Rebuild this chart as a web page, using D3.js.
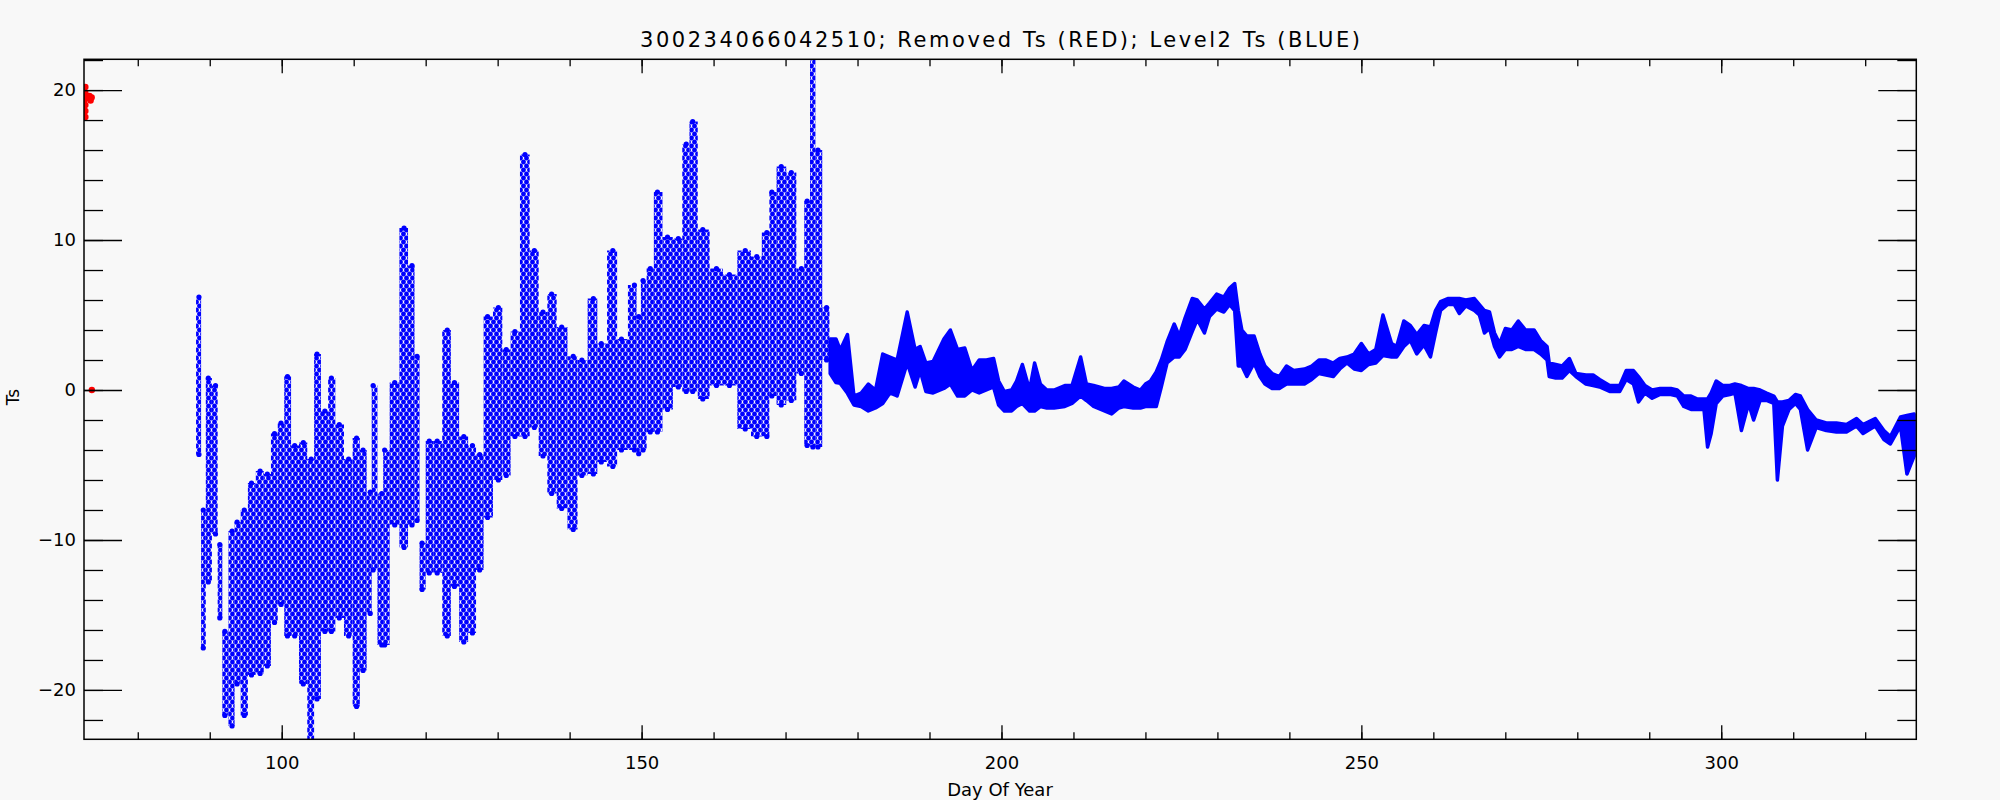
<!DOCTYPE html>
<html><head><meta charset="utf-8">
<script src="https://cdn.jsdelivr.net/npm/d3@7"></script>
<style>
html,body{margin:0;padding:0;background:#f8f8f8;}
svg{display:block;font-family:"DejaVu Sans",sans-serif;}
</style>
</head><body>
<svg id="chart" width="2000" height="800"></svg>
<script>
// ---------------- data ----------------
const chartTitle = "300234066042510; Removed Ts (RED); Level2 Ts (BLUE)";
const xTitle = "Day Of Year";
const yTitle = "Ts";
const xDomain = [72.53, 327.1];
const yDomain = [-23.29, 22.05];
const xMajorTicks = [100, 150, 200, 250, 300];
const xMinorTicks = [80, 90, 100, 110, 120, 130, 140, 150, 160, 170, 180, 190, 200, 210, 220, 230, 240, 250, 260, 270, 280, 290, 300, 310, 320];
const yMajorTicks = [-20, -10, 0, 10, 20];
const yMinorTicks = [-22, -20, -18, -16, -14, -12, -10, -8, -6, -4, -2, 0, 2, 4, 6, 8, 10, 12, 14, 16, 18, 20, 22];

// Removed Ts (red)
const redDay = [72.72, 72.72, 72.72, 72.72, 72.72, 72.72, 73.3, 73.45, 73.6, 73.62];
const redTs  = [20.2, 19.8, 19.4, 19.0, 18.6, 18.2, 19.6, 19.3, 19.5, 0.0];

// Level2 Ts, spring period with strong diurnal cycle: day, daily low, daily high
const earlyDay  = [88.5, 89.1, 89.8, 90.8, 91.4, 92.1, 93.1, 93.8, 94.8, 95.8, 97.0, 98.0, 99.0, 99.9, 100.8, 101.8, 103.0, 104.1, 104.9, 106.0, 106.9, 108.0, 109.3, 110.4, 111.3, 112.3, 112.7, 113.9, 114.3, 115.7, 117.0, 118.1,
  118.8, 119.5, 120.5, 121.6, 123.0, 124.0, 125.3, 126.5, 127.5, 128.6, 130.1, 131.2, 132.4, 133.8, 135.1, 136.3, 137.5, 138.9, 140.5, 141.7, 143.3, 144.4, 146.0, 147.2, 149.0,
  149.6, 150.2, 151.2, 152.2, 153.6, 155.1, 156.2, 157.1, 158.5, 160.4, 162.2, 164.4, 166.0, 167.4, 168.1, 169.4, 170.8, 172.2, 173.0, 173.8, 174.5, 175.7];
const earlyLow  = [-4.3, -17.2, -12.8, -9.6, -15.2, -21.7, -22.4, -19.6, -21.7, -19.0, -18.9, -18.4, -15.5, -14.3, -16.4, -16.4, -19.6, -23.6, -20.6, -16.1, -16.1, -15.2, -16.4, -21.1, -18.7, -14.9, -12.0, -17.0, -17.0, -9.0, -10.5, -9.0,
  -8.7, -13.3, -12.2, -12.2, -16.4, -13.1, -16.8, -16.2, -12.0, -8.5, -6.0, -5.7, -3.1, -3.1, -2.5, -4.4, -6.9, -7.9, -9.3, -5.7, -5.6, -4.8, -5.1, -4.0, -4.0,
  -4.25, -4.0, -2.8, -2.8, -1.3, 0.2, -0.1, -0.1, -0.6, 0.3, 0.3, -2.6, -3.1, -3.1, -0.4, -1.0, -0.7, 1.1, -3.7, -3.8, -3.8, 2.0];
const earlyHigh = [6.2, -8.0, 0.8, 0.3, -10.3, -16.1, -9.4, -8.8, -8.0, -6.2, -5.4, -5.6, -2.9, -2.2, 0.9, -3.7, -3.5, -4.6, 2.4, -1.4, 0.8, -2.3, -4.6, -3.2, -4.0, -6.8, 0.3, -6.9, -4.0, 0.5, 10.8, 8.3,
  2.25, -10.2, -3.4, -3.4, 4.0, 0.5, -3.1, -3.7, -4.3, 4.9, 5.5, 2.7, 3.9, 15.7, 9.3, 5.2, 6.4, 4.2, 2.25, 2.0, 6.1, 3.1, 9.3, 3.4, 7.0,
  4.9, 7.3, 8.1, 13.2, 10.2, 10.1, 16.4, 17.9, 10.7, 8.1, 7.7, 9.3, 8.9, 10.5, 13.2, 14.9, 14.5, 8.1, 12.6, 22.3, 16.0, 5.5];

// Level2 Ts, summer/autumn period: day, low and high of the plotted band
const lateDay  = [176.2, 177.0, 177.6, 178.6, 179.5, 180.5, 181.5, 182.5, 183.5, 184.5, 185.5, 186.9, 188.0, 188.7, 189.5, 190.5, 192.0, 192.9, 193.9, 194.9, 195.9, 196.9, 197.9, 198.9, 199.6,
  200.4, 201.4, 202.1, 202.9, 203.9, 204.6, 205.4, 206.3, 207.3, 208.8, 209.8, 211.0, 211.8, 212.8, 214.3, 215.3, 216.3, 217.0, 218.3, 219.3, 220.0, 220.7, 221.5, 222.2, 223.0, 224.0, 224.7,
  225.5, 226.5, 227.2, 228.2, 228.9, 229.9, 230.9, 231.7, 232.4, 232.9, 233.4, 234.1, 235.1, 235.9, 236.6, 237.6, 238.6, 239.6, 240.6, 242.1, 243.1, 244.1, 245.1, 246.1, 247.0, 248.0, 249.0,
  250.0, 251.0, 252.0, 253.0, 254.2, 254.9, 255.9, 256.8, 257.7, 258.7, 259.6, 260.3, 261.0, 262.0, 262.9, 263.6, 264.5, 265.7, 266.4, 267.1, 267.8, 268.5, 269.2, 270.0, 270.9, 271.8, 272.8,
  274.0, 274.9, 275.8, 276.1, 277.0, 277.9, 278.9, 279.8, 281.2, 282.2, 283.1, 284.5, 285.9, 286.8, 287.8, 288.5, 289.4, 290.4, 291.5, 293.0, 293.9, 294.8, 295.8, 296.7, 297.6, 298.1, 298.6,
  299.3, 300.2, 301.2, 301.9, 302.8, 303.8, 304.5, 305.4, 306.3, 307.3, 307.8, 308.5, 309.4, 310.3, 311.0, 312.0, 313.2, 314.6, 316.0, 317.4, 318.8, 319.7, 321.4, 322.6, 323.5, 324.9, 325.8, 326.8];
const lateLow  = [1.1, 0.5, 0.44, -0.22, -1.0, -1.1, -1.4, -1.2, -0.9, -0.2, -0.4, 1.8, 0.2, 1.3, -0.1, -0.2, 0.1, 0.4, -0.4, -0.4, 0.0, -0.2, 0.0, 0.2, -1.0,
  -1.4, -1.4, -1.1, -0.9, -1.4, -1.4, -1.1, -1.2, -1.2, -1.1, -0.9, -0.4, -0.7, -1.1, -1.4, -1.6, -1.2, -1.1, -1.2, -1.2, -1.1, -1.1, -1.1, 0.2, 1.8, 2.2, 2.2,
  2.7, 3.9, 4.7, 3.8, 4.9, 5.4, 5.2, 5.7, 5.3, 1.6, 1.6, 0.9, 1.8, 0.9, 0.4, 0.1, 0.1, 0.4, 0.4, 0.4, 0.7, 1.1, 1.0, 0.9, 1.4, 1.8, 1.4,
  1.3, 1.7, 1.8, 2.3, 2.2, 2.2, 2.9, 3.3, 2.4, 3.0, 2.2, 3.8, 5.3, 5.7, 5.7, 5.1, 5.6, 5.3, 5.0, 3.8, 4.1, 2.9, 2.2, 2.7, 2.7, 2.9, 2.7,
  2.7, 2.4, 2.0, 0.9, 0.8, 0.8, 1.3, 0.9, 0.4, 0.3, 0.2, -0.1, -0.1, 0.7, 0.4, -0.8, -0.2, -0.55, -0.3, -0.3, -0.4, -1.1, -1.3, -1.3, -1.3, -3.8, -2.9,
  -0.9, -0.4, -0.3, -0.2, -2.7, -0.9, -2.0, -0.7, -0.7, -0.9, -6.0, -2.4, -1.3, -0.9, -1.3, -4.0, -2.5, -2.7, -2.8, -2.8, -2.4, -2.9, -2.4, -3.3, -3.6, -2.4, -5.6, -4.4];
const lateHigh = [3.4, 3.4, 2.67, 3.7, -0.4, -0.2, 0.4, 0.0, 2.4, 2.2, 2.0, 5.2, 2.7, 2.9, 1.8, 1.9, 3.4, 4.0, 2.7, 2.8, 1.3, 2.0, 2.0, 2.1, 0.6,
  -0.1, 0.0, 0.6, 1.7, 0.0, 1.8, 0.4, 0.0, 0.0, 0.3, 0.3, 2.2, 0.4, 0.3, 0.1, 0.1, 0.2, 0.6, 0.2, 0.0, 0.4, 0.6, 1.2, 2.0, 3.2, 4.4, 3.6,
  4.8, 6.1, 6.0, 5.4, 5.8, 6.4, 6.2, 6.8, 7.1, 5.3, 4.0, 3.6, 3.6, 2.4, 1.6, 1.1, 0.9, 1.6, 1.3, 1.4, 1.6, 2.0, 2.0, 1.8, 2.1, 2.2, 2.4,
  3.1, 2.4, 2.7, 5.0, 3.1, 2.9, 4.6, 4.3, 3.7, 4.3, 4.2, 5.3, 5.9, 6.1, 6.1, 6.1, 6.0, 6.1, 5.7, 5.3, 5.2, 3.8, 3.1, 4.1, 4.0, 4.6, 4.0,
  4.0, 3.3, 2.9, 1.8, 1.7, 1.6, 2.1, 1.1, 1.0, 1.0, 0.7, 0.3, 0.3, 1.3, 1.3, 0.9, 0.3, 0.0, 0.1, 0.1, 0.0, -0.4, -0.4, -0.6, -0.6, -0.6, -0.2,
  0.6, 0.3, 0.3, 0.4, 0.3, 0.1, 0.1, 0.0, -0.2, -0.4, -0.8, -0.8, -0.7, -0.3, -0.4, -1.3, -2.0, -2.2, -2.2, -2.3, -1.9, -2.3, -1.9, -2.7, -3.1, -1.8, -1.7, -1.6];

// ---------------- drawing ----------------
const svg = d3.select("#chart");
const plot = {left: 84, right: 1916.3, top: 59.3, bottom: 739.3};
const x = d3.scaleLinear().domain(xDomain).range([plot.left, plot.right]);
const y = d3.scaleLinear().domain(yDomain).range([plot.bottom, plot.top]);
const BLUE = "#0000ff", RED = "#ff0000";

svg.append("rect").attr("width", 2000).attr("height", 800).attr("fill", "#f8f8f8");

const defs = svg.append("defs");
defs.append("clipPath").attr("id", "clip").append("rect")
  .attr("x", plot.left).attr("y", plot.top)
  .attr("width", plot.right - plot.left).attr("height", plot.bottom - plot.top);
// dotted texture used to fill the diurnal ranges (seamless tile)
const PW = 6, PH = 8;
const pat = defs.append("pattern").attr("id", "dots").attr("patternUnits", "userSpaceOnUse")
  .attr("width", PW).attr("height", PH);
[[1.5, 2], [4.5, 6]].forEach(([cx, cy]) => {
  [-1, 0, 1].forEach(i => [-1, 0, 1].forEach(j => {
    pat.append("circle").attr("cx", cx + i * PW).attr("cy", cy + j * PH).attr("r", 2.4).attr("fill", BLUE);
  }));
});

const g = svg.append("g").attr("clip-path", "url(#clip)");

// early period: diurnal range columns, dotted texture
const early = earlyDay.map((d, i) => ({day: d, lo: earlyLow[i], hi: earlyHigh[i]}));
early.forEach((d, i) => {
  const prev = i > 0 ? early[i - 1].day : d.day - 0.8;
  const next = i < early.length - 1 ? early[i + 1].day : d.day + 0.8;
  d.x0 = x((prev + d.day) / 2);
  d.x1 = x((next + d.day) / 2);
});
g.selectAll("rect.early").data(early).join("rect").attr("class", "early")
  .attr("x", d => d.x0).attr("width", d => Math.max(3, d.x1 - d.x0))
  .attr("y", d => y(d.hi)).attr("height", d => y(d.lo) - y(d.hi))
  .attr("fill", "url(#dots)");
g.selectAll("circle.ehi").data(early).join("circle").attr("class", "ehi")
  .attr("cx", d => x(d.day)).attr("cy", d => y(d.hi)).attr("r", 2.6).attr("fill", BLUE);
g.selectAll("circle.elo").data(early).join("circle").attr("class", "elo")
  .attr("cx", d => x(d.day)).attr("cy", d => y(d.lo)).attr("r", 2.6).attr("fill", BLUE);

// later period: dense band
const late = lateDay.map((d, i) => ({day: d, lo: lateLow[i], hi: lateHigh[i]}));
const area = d3.area().x(d => x(d.day)).y0(d => y(d.lo)).y1(d => y(d.hi)).curve(d3.curveLinear);
g.append("path").datum(late).attr("d", area)
  .attr("fill", BLUE).attr("stroke", BLUE).attr("stroke-width", 3.5).attr("stroke-linejoin", "round");

// removed (red) points
const red = redDay.map((d, i) => ({day: d, ts: redTs[i]}));
g.selectAll("circle.red").data(red).join("circle").attr("class", "red")
  .attr("cx", d => x(d.day)).attr("cy", d => y(d.ts)).attr("r", 3.2).attr("fill", RED);

// ---------------- axes ----------------
function styleAxis(sel) {
  sel.select(".domain").remove();
  sel.selectAll("line").attr("stroke", "#000").attr("stroke-width", 1.3);
  sel.selectAll("text").attr("fill", "#000").attr("font-size", 18)
    .attr("font-family", "DejaVu Sans, sans-serif");
}
const fmt = v => v < 0 ? "\u2212" + Math.abs(v) : String(v);

svg.append("g").attr("transform", `translate(0,${plot.bottom})`)
  .call(d3.axisBottom(x).tickValues(xMinorTicks).tickSize(-7).tickFormat("")).call(styleAxis);
svg.append("g").attr("transform", `translate(0,${plot.bottom})`)
  .call(d3.axisBottom(x).tickValues(xMajorTicks).tickSize(-14).tickPadding(17).tickFormat(fmt)).call(styleAxis);
svg.append("g").attr("transform", `translate(0,${plot.top})`)
  .call(d3.axisTop(x).tickValues(xMinorTicks).tickSize(-7).tickFormat("")).call(styleAxis);
svg.append("g").attr("transform", `translate(0,${plot.top})`)
  .call(d3.axisTop(x).tickValues(xMajorTicks).tickSize(-14).tickFormat("")).call(styleAxis);

svg.append("g").attr("transform", `translate(${plot.left},0)`)
  .call(d3.axisLeft(y).tickValues(yMinorTicks).tickSize(-19).tickFormat("")).call(styleAxis);
svg.append("g").attr("transform", `translate(${plot.left},0)`)
  .call(d3.axisLeft(y).tickValues(yMajorTicks).tickSize(-38).tickPadding(8).tickFormat(fmt)).call(styleAxis);
svg.append("g").attr("transform", `translate(${plot.right},0)`)
  .call(d3.axisRight(y).tickValues(yMinorTicks).tickSize(-19).tickFormat("")).call(styleAxis);
svg.append("g").attr("transform", `translate(${plot.right},0)`)
  .call(d3.axisRight(y).tickValues(yMajorTicks).tickSize(-38).tickFormat("")).call(styleAxis);

svg.append("rect").attr("x", plot.left).attr("y", plot.top)
  .attr("width", plot.right - plot.left).attr("height", plot.bottom - plot.top)
  .attr("fill", "none").attr("stroke", "#000").attr("stroke-width", 1.5);

// ---------------- titles ----------------
svg.append("text").attr("x", 1000).attr("y", 47).attr("text-anchor", "middle")
  .attr("font-size", 21).attr("fill", "#000")
  .attr("textLength", 720).attr("lengthAdjust", "spacing").text(chartTitle);
svg.append("text").attr("x", 1000).attr("y", 796).attr("text-anchor", "middle")
  .attr("font-size", 18).attr("fill", "#000").text(xTitle);
svg.append("text").attr("transform", "translate(19,397) rotate(-90)").attr("text-anchor", "middle")
  .attr("font-size", 17).attr("fill", "#000").text(yTitle);
</script>
</body></html>
